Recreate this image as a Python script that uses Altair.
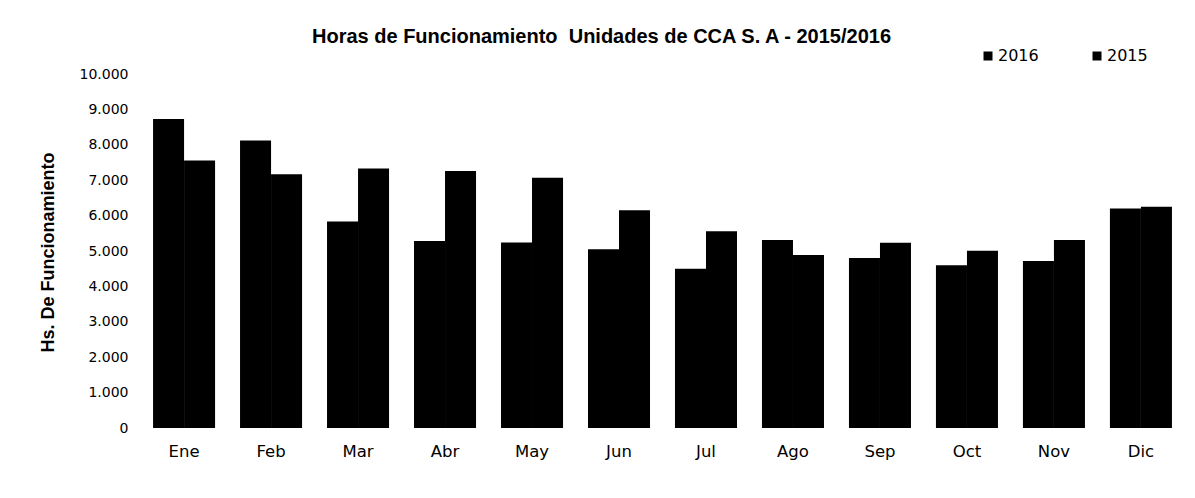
import altair as alt
import pandas as pd

months = ["Ene", "Feb", "Mar", "Abr", "May", "Jun", "Jul", "Ago", "Sep", "Oct", "Nov", "Dic"]
years = ["2016", "2015"]
v2016 = [8730, 8120, 5830, 5280, 5240, 5050, 4500, 5310, 4800, 4600, 4720, 6200]
v2015 = [7560, 7170, 7330, 7260, 7070, 6150, 5560, 4890, 5230, 5010, 5310, 6250]
y_ticks = list(range(0, 10001, 1000))

rows = []
for m, a, b in zip(months, v2016, v2015):
    rows.append({"mes": m, "anio": "2016", "horas": a})
    rows.append({"mes": m, "anio": "2015", "horas": b})
df = pd.DataFrame(rows)

title = alt.TitleParams(
    text="Horas de Funcionamiento\u00a0 Unidades de CCA S. A - 2015/2016",
    font="Liberation Sans", fontSize=20, fontWeight="bold", color="#000000",
    anchor="middle", frame="group", dx=-61, dy=20, offset=5, baseline="alphabetic",
)

chart = alt.Chart(df, title=title).mark_bar(color="#000000").encode(
    x=alt.X(
        "mes:N", sort=months,
        scale=alt.Scale(paddingInner=0.287, paddingOuter=0.15),
        axis=alt.Axis(
            title=None, labelAngle=0, ticks=False, domain=False, labelPadding=15,
            labelFont="DejaVu Sans", labelFontSize=16.5, labelColor="#000000",
        ),
    ),
    xOffset=alt.XOffset("anio:N", sort=years, scale=alt.Scale(paddingInner=0, paddingOuter=0)),
    y=alt.Y(
        "horas:Q",
        scale=alt.Scale(domain=[0, 10000], nice=False),
        axis=alt.Axis(
            values=y_ticks,
            labelExpr="replace(format(datum.value, ',d'), ',', '.')",
            grid=False, domain=False, ticks=False, labelPadding=12,
            labelFont="DejaVu Sans", labelFontSize=14, labelColor="#000000",
            title="Hs. De Funcionamiento", titleFont="Liberation Sans",
            titleFontWeight="bold", titleFontSize=18, titleColor="#000000",
            titleX=-87, titleY=178, titleAngle=270, titleAlign="center",
            titleBaseline="alphabetic",
        ),
    ),
    color=alt.Color(
        "anio:N", sort=years,
        scale=alt.Scale(domain=years, range=["#000000", "#000000"]),
        legend=alt.Legend(
            title=None, orient="none", legendX=840, legendY=-26,
            direction="horizontal", symbolType="square", symbolSize=81,
            symbolStrokeWidth=0, labelFont="DejaVu Sans", labelFontSize=16,
            labelColor="#000000", labelOffset=2, columnPadding=50, padding=0,
        ),
    ),
).properties(
    width=1045, height=354,
    autosize=alt.AutoSizeParams(type="none"),
    padding={"left": 132, "top": 66, "right": 2, "bottom": 62},
    background="white",
).configure_view(stroke=None)

chart.save("out.html", embed_options={"renderer": "svg", "actions": False})
